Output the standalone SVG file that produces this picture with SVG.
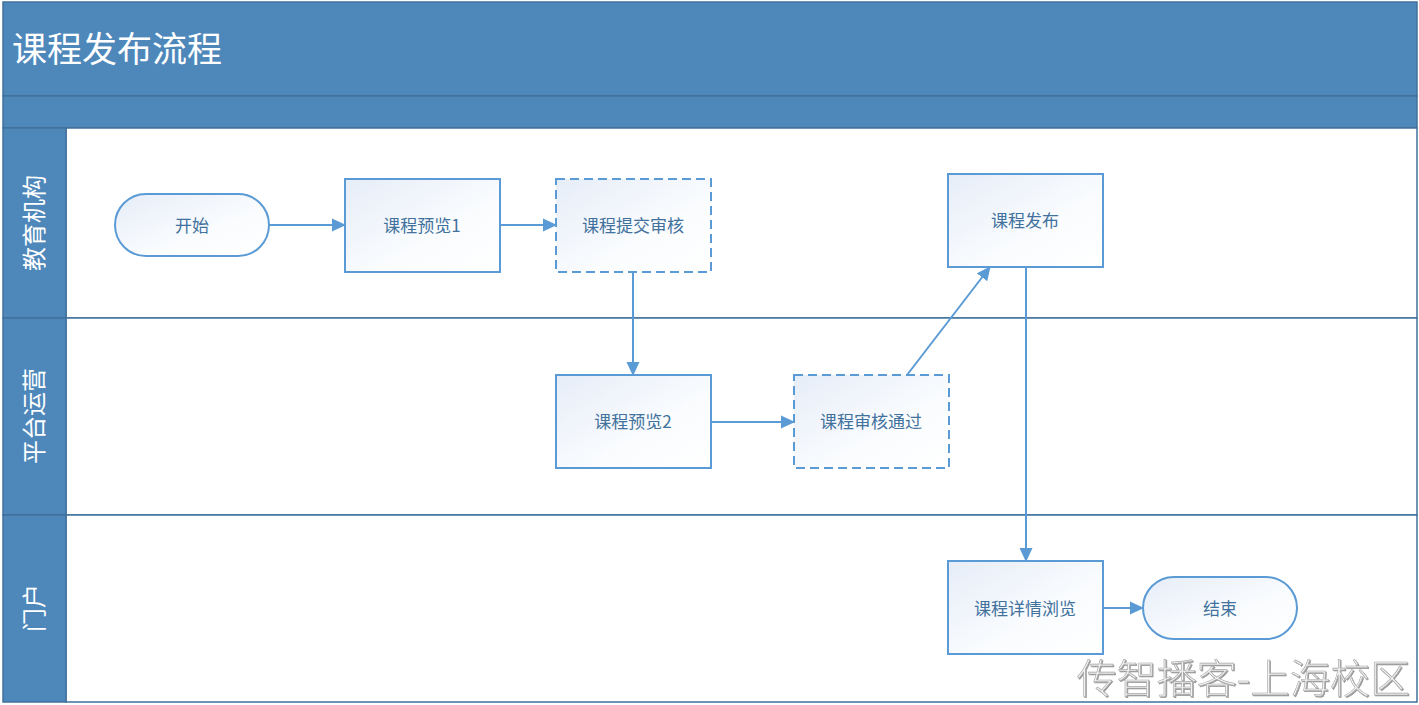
<svg xmlns="http://www.w3.org/2000/svg" width="1419" height="705" viewBox="0 0 1419 705">
<defs>
<linearGradient id="g" x1="0" y1="0" x2="1" y2="1">
<stop offset="0" stop-color="#E6EDF8"/>
<stop offset="0.6" stop-color="#FAFCFE"/>
<stop offset="1" stop-color="#FFFFFF"/>
</linearGradient>
<marker id="ah" markerWidth="14" markerHeight="14" refX="13" refY="7" orient="auto" markerUnits="userSpaceOnUse" viewBox="0 0 14 14">
<path d="M0,0.5 L14,7 L0,13.5 z" fill="#5B9BD5"/>
</marker>
<filter id="emb" x="-5%" y="-20%" width="110%" height="140%">
<feDropShadow dx="1" dy="1" stdDeviation="0.6" flood-color="#808080" flood-opacity="0.8"/>
</filter>
</defs>
<style>
.lane{fill:#FFFFFF;stroke:#41719C;stroke-width:1.5}
.hdr{fill:#4E88BB;stroke:#41719C;stroke-width:1.5}
.lbl{font-family:"Noto Sans CJK SC","Liberation Sans",sans-serif;font-size:24px;fill:#FFFFFF}
.box{fill:url(#g);stroke:#5B9BD5;stroke-width:2}
.dash{stroke-dasharray:9,5}
.t{font-family:"Noto Sans CJK SC","Liberation Sans",sans-serif;font-size:17px;fill:#41719C;text-anchor:middle;dominant-baseline:central}
.c{fill:none;stroke:#5B9BD5;stroke-width:2;marker-end:url(#ah)}
</style>
<rect x="0" y="0" width="1419" height="705" fill="#FFFFFF"/>
<g id="pool">
<rect class="hdr" x="3" y="2" width="1414" height="94"/>
<rect class="hdr" x="3" y="96" width="1414" height="32"/>
<text x="12" y="62" font-family="'Noto Sans CJK SC','Liberation Sans',sans-serif" font-size="35" fill="#FFFFFF">课程发布流程</text>
</g>
<g id="lane1">
<rect class="lane" x="66" y="128" width="1351" height="190"/>
<rect class="hdr" x="3" y="128" width="63" height="190"/>
<text class="lbl" transform="translate(43,223) rotate(-90)" text-anchor="middle">教育机构</text>
</g>
<g id="lane2">
<rect class="lane" x="66" y="318" width="1351" height="197"/>
<rect class="hdr" x="3" y="318" width="63" height="197"/>
<text class="lbl" transform="translate(43,416) rotate(-90)" text-anchor="middle">平台运营</text>
</g>
<g id="lane3">
<rect class="lane" x="66" y="515" width="1351" height="187"/>
<rect class="hdr" x="3" y="515" width="63" height="187"/>
<text class="lbl" transform="translate(43,608) rotate(-90)" text-anchor="middle">门户</text>
</g>
<g id="connectors">
<path class="c" d="M269,225 L345,225"/>
<path class="c" d="M500,225 L556,225"/>
<path class="c" d="M633,272 L633,375"/>
<path class="c" d="M711,422 L794,422"/>
<path class="c" d="M907,375 L990,267"/>
<path class="c" d="M1026,267 L1026,561"/>
<path class="c" d="M1103,608 L1143,608"/>
</g>
<g id="start">
<rect class="box" x="115" y="194" width="154" height="62" rx="31" ry="31"/>
<text class="t" x="192" y="224">开始</text>
</g>
<g id="preview1">
<rect class="box" x="345" y="179" width="155" height="93"/>
<text class="t" x="422" y="224">课程预览1</text>
</g>
<g id="submit">
<rect class="box dash" x="556" y="179" width="155" height="93"/>
<text class="t" x="633" y="224">课程提交审核</text>
</g>
<g id="publish">
<rect class="box" x="948" y="174" width="155" height="93"/>
<text class="t" x="1025" y="219">课程发布</text>
</g>
<g id="preview2">
<rect class="box" x="556" y="375" width="155" height="93"/>
<text class="t" x="633" y="420">课程预览2</text>
</g>
<g id="approve">
<rect class="box dash" x="794" y="375" width="155" height="93"/>
<text class="t" x="871" y="420">课程审核通过</text>
</g>
<g id="detail">
<rect class="box" x="948" y="561" width="155" height="93"/>
<text class="t" x="1025" y="607">课程详情浏览</text>
</g>
<g id="end">
<rect class="box" x="1143" y="577" width="154" height="62" rx="31" ry="31"/>
<text class="t" x="1220" y="607">结束</text>
</g>
<text x="1410" y="693" text-anchor="end" font-family="'Noto Sans CJK SC','Liberation Sans',sans-serif" font-size="40" font-weight="300" fill="#F2F2F2" stroke="#A6A6A6" stroke-width="0.6" filter="url(#emb)">传智播客-上海校区</text>
</svg>
